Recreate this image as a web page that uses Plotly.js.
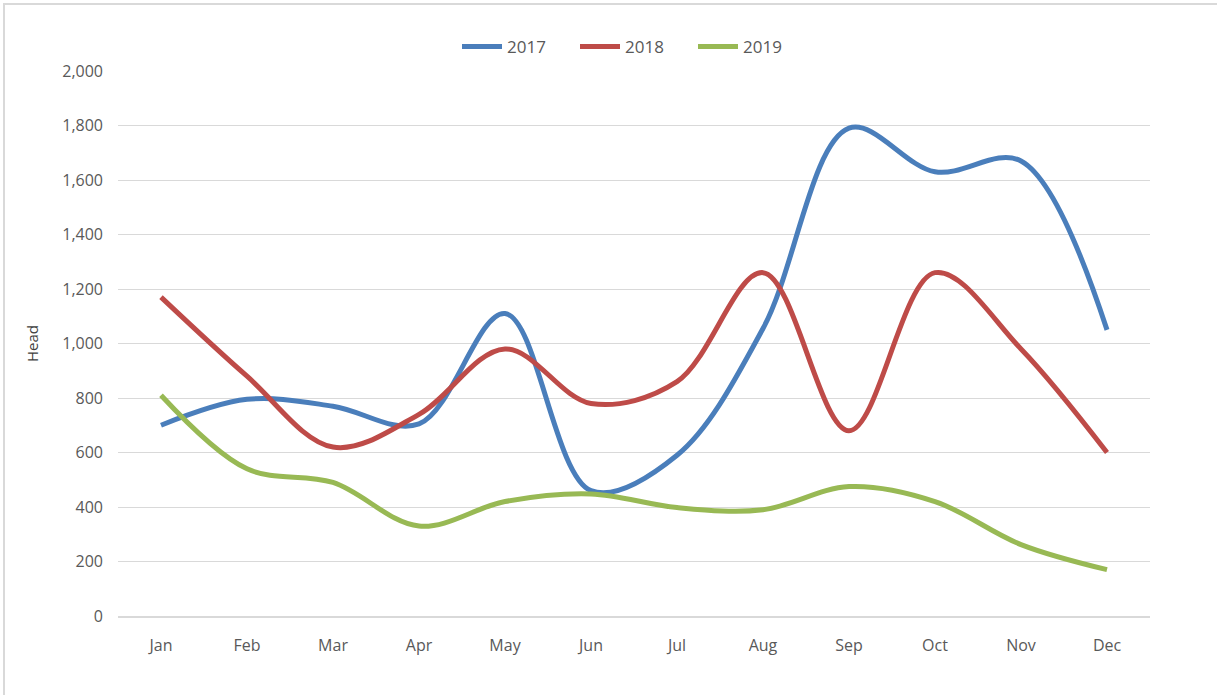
<!DOCTYPE html>
<html>
<head>
<meta charset="utf-8">
<script src="https://cdn.plot.ly/plotly-3.0.1.min.js"></script>
<style>
  html, body { margin: 0; padding: 0; background: #fff; }
  #chart { width: 1217px; height: 695px; }
  #frame { position: absolute; left: 3px; top: 3px; width: 1214px; height: 692px;
           border-top: 2px solid #d9d9d9; border-left: 2px solid #d9d9d9; pointer-events: none; }
</style>
</head>
<body>
<div id="chart"></div>
<div id="frame"></div>
<script>
const months = ["Jan","Feb","Mar","Apr","May","Jun","Jul","Aug","Sep","Oct","Nov","Dec"];
const s2017 = [700, 795, 770, 705, 1110, 460, 590, 1055, 1790, 1630, 1670, 1050];
const s2018 = [1170, 880, 620, 740, 980, 780, 860, 1260, 680, 1260, 980, 600];
const s2019 = [810, 540, 490, 330, 420, 448, 398, 390, 475, 420, 262, 170];
const seriesNames = ["2017", "2018", "2019"];
const yTicks = [0, 200, 400, 600, 800, 1000, 1200, 1400, 1600, 1800, 2000];

const colors = ["#4a7ebb", "#be4b48", "#98b954"];
const data = [s2017, s2018, s2019].map((vals, i) => ({
  type: "scatter",
  mode: "lines",
  x: months,
  y: vals,
  name: seriesNames[i],
  line: { color: colors[i], width: 5, shape: "spline", smoothing: 1 }
}));

const layout = {
  width: 1217, height: 695,
  paper_bgcolor: "#ffffff", plot_bgcolor: "#ffffff",
  margin: { l: 118, r: 67, t: 71, b: 79 },
  font: { family: "Open Sans, Liberation Sans, sans-serif", color: "#595959", size: 14 },
  showlegend: true,
  legend: { orientation: "h", x: 0.5, xanchor: "center", y: 1.044, yanchor: "middle",
            font: { size: 17, color: "#595959" }, itemwidth: 40, tracegroupgap: 0,
            entrywidth: 63, entrywidthmode: "pixels" },
  xaxis: {
    type: "category", range: [-0.5, 11.5],
    showgrid: false, zeroline: false,
    showline: true, linecolor: "#d9d9d9", linewidth: 1.5,
    ticks: "", tickfont: { size: 16, color: "#595959" }, ticklabelstandoff: 14
  },
  yaxis: {
    range: [0, 2000], tickvals: yTicks, ticktext: yTicks.map(v => v.toLocaleString("en-US")),
    showgrid: true, gridcolor: "#d9d9d9", gridwidth: 1, zeroline: false,
    showline: false, ticks: "", tickfont: { size: 16, color: "#595959" },
    ticklabelstandoff: 14,
    title: { text: "Head", font: { size: 15, color: "#404040" }, standoff: 20 }
  }
};

Plotly.newPlot("chart", data, layout, { displayModeBar: false, staticPlot: true });
</script>
</body>
</html>
